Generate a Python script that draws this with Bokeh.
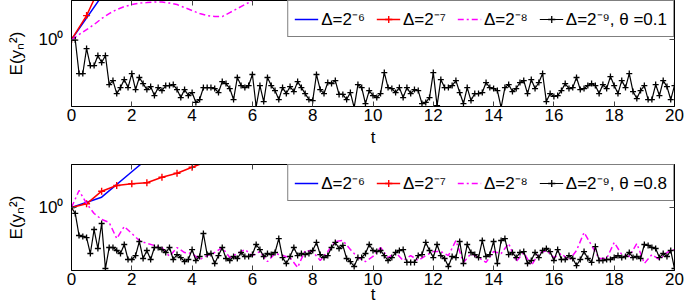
import numpy as np
from bokeh.plotting import figure
from bokeh.layouts import column
from bokeh.models import (Range1d, LinearAxis, LogAxis, FixedTicker, Legend,
                          LegendItem, CustomJSTickFormatter)
from bokeh.embed import file_html
from bokeh.resources import INLINE

# ---------------- data ----------------
x_ticks = [0, 2, 4, 6, 8, 10, 12, 14, 16, 18, 20]
labels_top = ["Δ=2⁻⁶", "Δ=2⁻⁷", "Δ=2⁻⁸", "Δ=2⁻⁹, θ =0.1"]
labels_bot = ["Δ=2⁻⁶", "Δ=2⁻⁷", "Δ=2⁻⁸", "Δ=2⁻⁹, θ =0.8"]

# theta = 0.1
top_blue_t = [0, 1, 2, 3]
top_blue = [1.0, 2.44, 6.0, 14.0]
top_red_t = [0, 0.5, 1.0, 1.5, 2.0]
top_red = [1.0, 1.64, 3.2, 6.3, 12.0]
top_mag_t = [0, 0.25, 0.5, 0.75, 1.0, 1.25, 1.5, 1.75, 2.0, 2.25, 2.5, 2.75, 3.0,
             3.25, 3.5, 3.75, 4.0, 4.25, 4.5, 4.75, 5.0, 5.25, 5.5, 5.75, 6.0, 6.25, 6.5]
top_mag = [1.000, 1.108, 1.229, 1.363, 1.542, 1.710, 1.857, 1.975, 2.059, 2.123,
           2.145, 2.168, 2.168, 2.123, 2.059, 1.935, 1.819, 1.710, 1.641, 1.607,
           1.607, 1.746, 1.896, 2.059, 2.236, 2.428, 2.637]
top_black = [
    1.000, 0.990, 0.496, 0.496, 0.831, 0.585, 0.585, 0.719, 0.622, 0.719,
    0.395, 0.429, 0.328, 0.371, 0.438, 0.371, 0.496, 0.356, 0.457, 0.403,
    0.356, 0.379, 0.315, 0.371, 0.349, 0.387, 0.387, 0.395, 0.356, 0.302,
    0.356, 0.315, 0.335, 0.273, 0.290, 0.371, 0.371, 0.371, 0.364, 0.335,
    0.420, 0.403, 0.364, 0.290, 0.457, 0.387, 0.371, 0.387, 0.486, 0.251,
    0.387, 0.278, 0.457, 0.387, 0.349, 0.290, 0.371, 0.328, 0.379, 0.342,
    0.420, 0.371, 0.328, 0.290, 0.284, 0.486, 0.356, 0.328, 0.412, 0.403,
    0.429, 0.322, 0.322, 0.290, 0.335, 0.246, 0.395, 0.371, 0.267, 0.349,
    0.315, 0.302, 0.328, 0.506, 0.371, 0.364, 0.335, 0.371, 0.302, 0.371,
    0.328, 0.356, 0.349, 0.267, 0.273, 0.302, 0.506, 0.256, 0.438, 0.371,
    0.371, 0.387, 0.429, 0.335, 0.267, 0.371, 0.284, 0.328, 0.328, 0.335,
    0.412, 0.371, 0.364, 0.349, 0.246, 0.371, 0.395, 0.342, 0.364, 0.412,
    0.429, 0.328, 0.438, 0.364, 0.412, 0.496, 0.278, 0.328, 0.309, 0.315,
    0.349, 0.403, 0.364, 0.371, 0.457, 0.356, 0.364, 0.387, 0.403, 0.387,
    0.328, 0.395, 0.364, 0.466, 0.387, 0.328, 0.429, 0.371, 0.496, 0.342,
    0.296, 0.349, 0.387, 0.290, 0.290, 0.395, 0.315, 0.429, 0.379, 0.290,
    0.387]

# theta = 0.8
bot_blue_t = [0, 1, 2, 3]
bot_blue = [1.0, 1.237, 2.09, 3.52]
bot_red_t = [0, 0.5, 1.0, 1.5, 2.0, 2.5, 3.0, 3.5, 4.0, 4.5, 5.0]
bot_red = [1.0, 1.079, 1.400, 1.574, 1.631, 1.665, 1.868, 2.029, 2.297, 2.584, 2.92]
bot_mag = [
    1.000, 1.420, 1.086, 0.884, 0.781, 0.734, 0.527, 0.676, 0.585, 0.506,
    0.476, 0.457, 0.438, 0.364, 0.438, 0.395, 0.387, 0.342, 0.371, 0.395,
    0.438, 0.356, 0.387, 0.420, 0.371, 0.403, 0.328, 0.387, 0.371, 0.356,
    0.290, 0.412, 0.403, 0.335, 0.403, 0.496, 0.506, 0.420, 0.356, 0.328,
    0.364, 0.438, 0.356, 0.395, 0.335, 0.371, 0.335, 0.371, 0.403, 0.403,
    0.371, 0.506, 0.322, 0.387, 0.356, 0.322, 0.403, 0.387, 0.476, 0.328,
    0.395, 0.302, 0.387, 0.412, 0.356, 0.387, 0.335, 0.412, 0.597, 0.457,
    0.349, 0.349, 0.486, 0.379, 0.364, 0.476, 0.315, 0.379, 0.342, 0.395,
    0.420]
bot_black = [
    1.000, 0.884, 0.561, 0.550, 0.538, 0.387, 0.635, 0.429, 0.719, 0.284,
    0.438, 0.438, 0.412, 0.387, 0.466, 0.342, 0.342, 0.371, 0.496, 0.349,
    0.412, 0.342, 0.438, 0.438, 0.420, 0.395, 0.438, 0.342, 0.379, 0.356,
    0.328, 0.342, 0.420, 0.335, 0.364, 0.585, 0.379, 0.387, 0.315, 0.371,
    0.438, 0.349, 0.335, 0.364, 0.349, 0.395, 0.364, 0.364, 0.379, 0.466,
    0.420, 0.364, 0.387, 0.379, 0.395, 0.527, 0.356, 0.315, 0.364, 0.438,
    0.371, 0.387, 0.379, 0.387, 0.412, 0.486, 0.379, 0.356, 0.371, 0.438,
    0.486, 0.429, 0.457, 0.349, 0.328, 0.296, 0.356, 0.356, 0.387, 0.466,
    0.412, 0.403, 0.412, 0.371, 0.335, 0.356, 0.395, 0.412, 0.420, 0.322,
    0.322, 0.322, 0.371, 0.379, 0.486, 0.412, 0.356, 0.466, 0.371, 0.349,
    0.296, 0.364, 0.356, 0.496, 0.315, 0.466, 0.395, 0.379, 0.356, 0.506,
    0.364, 0.379, 0.496, 0.315, 0.506, 0.527, 0.379, 0.395, 0.356, 0.395,
    0.403, 0.315, 0.335, 0.395, 0.356, 0.412, 0.429, 0.403, 0.335, 0.420,
    0.342, 0.342, 0.371, 0.349, 0.302, 0.342, 0.403, 0.349, 0.322, 0.447,
    0.335, 0.335, 0.342, 0.342, 0.356, 0.371, 0.356, 0.364, 0.395, 0.356,
    0.364, 0.349, 0.466, 0.457, 0.438, 0.429, 0.356, 0.387, 0.364, 0.412,
    0.284]

t_black = np.linspace(0, 20, len(top_black))
t_mag_bot = np.linspace(0, 20, len(bot_mag))

FONT = "Liberation Sans"
BLUE, RED, MAG, BLACK = "#0000ff", "#ff0000", "#ff00ff", "#000000"


def empty_fmt():
    return CustomJSTickFormatter(code="return ''")


def make_fig(height, min_top, min_bottom, y_lo, y_hi, t_standoff):
    p = figure(width=685, height=height, x_range=Range1d(0, 20),
               y_range=Range1d(y_lo, y_hi), y_axis_type="log",
               output_backend="svg", toolbar_location=None,
               min_border_left=71, min_border_right=11,
               min_border_top=min_top, min_border_bottom=min_bottom)
    p.xgrid.visible = False
    p.ygrid.visible = False
    p.outline_line_color = "black"
    p.outline_line_width = 1
    p.background_fill_color = "white"
    p.border_fill_color = "white"

    xa = p.xaxis[0]
    xa.ticker = FixedTicker(ticks=x_ticks)
    xa.axis_label = "t"
    ya = p.yaxis[0]
    ya.ticker = FixedTicker(ticks=[1])
    ya.major_label_overrides = {1: "10⁰"}
    ya.axis_label = "E(yₙ²)"
    for ax in (xa, ya):
        ax.major_tick_in = 5
        ax.major_tick_out = 0
        ax.minor_tick_line_color = None
        ax.major_tick_line_color = "#444444"
        ax.axis_line_color = "black"
        ax.major_label_text_font = FONT
        ax.major_label_text_font_size = "17px"
        ax.major_label_text_color = "black"
        ax.axis_label_text_font = FONT
        ax.axis_label_text_font_size = "17px"
        ax.axis_label_text_font_style = "normal"
        ax.axis_label_text_color = "black"
    xa.major_label_standoff = 2
    xa.axis_label_standoff = t_standoff
    ya.major_label_standoff = 8
    ya.axis_label_standoff = 10

    top_ax = LinearAxis(ticker=FixedTicker(ticks=x_ticks), formatter=empty_fmt(),
                        major_tick_in=5, major_tick_out=0, major_label_standoff=0,
                        minor_tick_line_color=None, major_tick_line_color="#444444",
                        axis_line_color="black")
    p.add_layout(top_ax, "above")
    right_ax = LogAxis(ticker=FixedTicker(ticks=[1]), formatter=empty_fmt(),
                       major_tick_in=5, major_tick_out=0, major_label_standoff=0,
                       minor_tick_line_color=None, major_tick_line_color="#444444",
                       axis_line_color="black")
    p.add_layout(right_ax, "right")
    return p


def add_series(p, bt, bv, rt, rv, mt, mv, kt, kv, labels):
    lb = p.line(bt, bv, line_color=BLUE, line_width=1.5)
    lr = p.line(rt, rv, line_color=RED, line_width=1.5)
    sr = p.scatter(rt, rv, marker="cross", size=7, line_color=RED, line_width=1.4)
    lm = p.line(mt, mv, line_color=MAG, line_width=1.5, line_dash="6 3 2 3")
    lk = p.line(kt, kv, line_color=BLACK, line_width=1.2)
    sk = p.scatter(kt, kv, marker="cross", size=6, line_color=BLACK, line_width=1.3)
    items = [LegendItem(label=labels[0], renderers=[lb]),
             LegendItem(label=labels[1], renderers=[lr, sr]),
             LegendItem(label=labels[2], renderers=[lm]),
             LegendItem(label=labels[3], renderers=[lk, sk])]
    leg = Legend(items=items, location="top_right", orientation="horizontal",
                 border_line_color="black", border_line_width=1,
                 background_fill_color="white", background_fill_alpha=1,
                 margin=0, padding=6, spacing=11, glyph_width=24,
                 glyph_height=18, label_height=18, label_standoff=3,
                 label_text_font=FONT, label_text_font_size="17px",
                 label_text_color="black")
    p.add_layout(leg)


p1 = make_fig(150, 0, 44, 0.2512, 2.239, 4)
add_series(p1, top_blue_t, top_blue, top_red_t, top_red, top_mag_t, top_mag,
           t_black, top_black, labels_top)

p2 = make_fig(157, 14, 37, 0.2726, 2.428, -3)
add_series(p2, bot_blue_t, bot_blue, bot_red_t, bot_red, t_mag_bot, bot_mag,
           t_black, bot_black, labels_bot)

layout = column(p1, p2, spacing=0)
open("out.html", "w").write(file_html(layout, INLINE))
